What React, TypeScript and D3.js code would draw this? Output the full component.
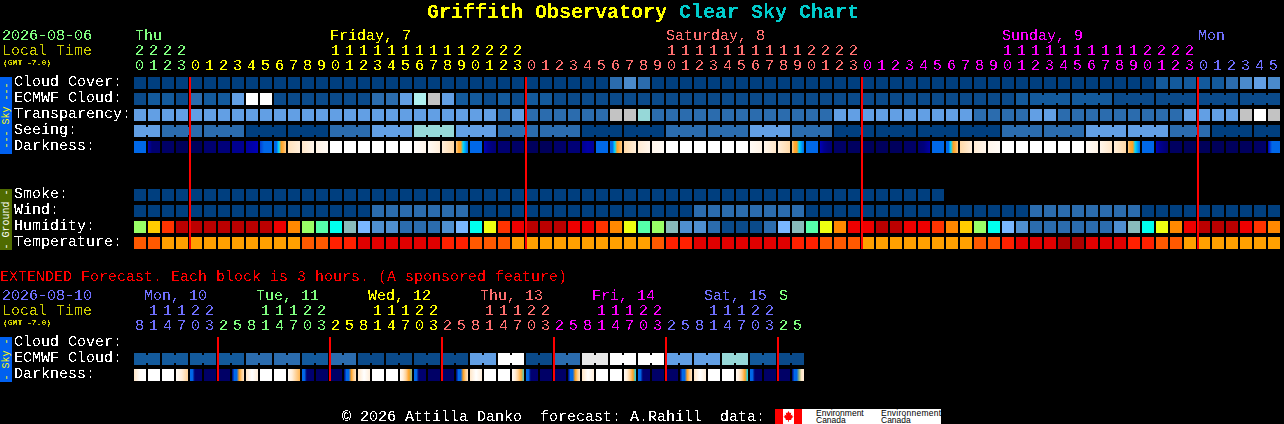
import { useEffect, useRef } from "react";
import * as d3 from "d3";

const WIDTH = 1284;
const HEIGHT = 424;
const FONT = "'Liberation Mono', monospace";

// palette shared by all the cloud-type rows, index = level in the data below
const skyColors = [
  "#003f7f", "#0a4a8a", "#135a9c", "#2b6cae", "#4a8acb", "#629fe4",
  "#79b7ff", "#96d8d8", "#b0f0f0", "#c3c3c3", "#e8e8e8", "#ffffff",
];
const humidityColors = [
  "#0a4a8a", "#2b6cae", "#4f8fd0", "#79b7ff", "#88bbbb", "#00ffee", "#55ffaa",
  "#99ff66", "#eeff11", "#ffcc00", "#ff8800", "#ff3300", "#ee0000", "#bb0000",
];
const temperatureColors = ["#ffa000", "#ff5900", "#ff2000", "#e00000", "#aa0000"];
const darknessColors = [
  "#000050", "#000070", "#000090", "#0000b8", "#0068e8", "#00d8ff",
  "#ffa020", "#ffcc88", "#ffe6c8", "#fff6ec", "#ffffff",
];

// main table, one value per hour: Thu 4, Fri 24, Sat 24, Sun 24, Mon 6
const cloudCover = [
  0, 0, 0, 0,
  0, 0, 0, 0, 0, 0, 0, 0, 0, 0, 0, 0, 0, 0, 0, 0, 0, 0, 0, 0, 0, 0, 0, 0,
  0, 0, 0, 0, 0, 0, 3, 4, 3, 0, 0, 0, 0, 0, 0, 0, 0, 0, 0, 0, 0, 0, 0, 0,
  0, 0, 0, 0, 0, 0, 0, 0, 0, 0, 0, 0, 0, 0, 0, 0, 0, 0, 0, 0, 0, 2, 2, 2,
  2, 2, 3, 4, 5, 4,
];
const ecmwfCloud = [
  1, 2, 2, 1,
  3, 2, 2, 5, 11, 11, 1, 1, 1, 1, 1, 1, 1, 3, 3, 5, 8, 9, 5, 2, 2, 1, 2, 1,
  2, 2, 1, 1, 1, 1, 1, 1, 1, 1, 1, 1, 1, 1, 1, 1, 1, 1, 1, 1, 1, 1, 1, 1,
  1, 1, 1, 1, 1, 1, 1, 1, 1, 1, 1, 2, 2, 2, 2, 2, 2, 2, 1, 1, 1, 1, 1, 1,
  1, 1, 1, 1, 1, 1,
];
const transparency = [
  5, 5, 5, 5,
  5, 5, 5, 5, 5, 5, 5, 5, 5, 5, 5, 5, 5, 5, 5, 5, 5, 5, 5, 5, 5, 5, 3, 5,
  3, 3, 3, 3, 3, 3, 9, 9, 7, 3, 3, 3, 3, 3, 3, 3, 3, 3, 3, 3, 3, 3, 5, 5,
  5, 5, 5, 5, 5, 5, 5, 5, 3, 3, 3, 3, 5, 5, 3, 3, 3, 3, 3, 3, 3, 3, 3, 5,
  5, 5, 5, 9, 11, 9,
];
// seeing comes in 3 hour blocks, the first and the last are cut to 2 hours
const seeingBlocks = [
  5, 3, 3, 0, 0, 3, 5, 7, 5, 3, 3, 0, 0, 3, 3, 5, 3, 0, 0, 0, 0, 3, 3, 5, 5, 3, 0, 0,
];
const darkness = [
  [4], [3, 1, 1, 1], [0.7], [0.3],
  [0.3], [1], [1.3], [2], [2.4, 2.6, 3], [3.6, 4, 4, 4], [4, 4, 5, 6, 6.4, 7], [7.8, 8.5],
  [8, 9], [8.8, 9.4], [10], [10], [10], [10], [10], [10],
  [9.8, 9], [9.5, 8.5], [8.5, 7.5], [7, 6.2, 6, 5, 4.5, 4], [4], [3, 2, 1.4, 1.2],
  [1], [0.7], [0.4], [0.3], [0.8], [1.2], [2, 2.6, 2.2], [4], [4, 4, 5, 6, 6.4, 7], [7.5, 8.5],
  [8.3, 9], [9, 9.5], [10], [10], [10], [10], [10], [10], [9.5, 8.8], [9, 8],
  [8.5, 7.5], [7, 6.2, 6, 5, 4.5, 4], [4], [3, 2, 1.4, 1.2],
  [0.7], [0.5], [0.3], [0.4], [0.4], [0.7], [1, 1.4, 2.6], [4], [4, 4, 5, 6, 6.4, 7], [7.5, 8.5],
  [8.3, 9], [9, 9.5], [10], [10], [10], [10], [10], [10], [9.5, 8.8], [9, 8],
  [8.5, 7.5], [7, 6.2, 6, 5, 4.5, 4], [4], [3, 2, 1.4, 1], [0.5], [0.3],
  [0.3], [0.3], [0.4], [0.4], [0.6, 0.8], [3, 4, 4, 4],
];
const smoke = [
  0, 0, 0, 0,
  0, 0, 0, 0, 0, 0, 0, 0, 0, 0, 0, 0, 0, 0, 0, 0, 0, 0, 0, 0, 0, 0, 0, 0,
  0, 0, 0, 0, 0, 0, 0, 0, 0, 0, 0, 0, 0, 0, 0, 0, 0, 0, 0, 0, 0, 0, 0, 0,
  0, 0, 0, 0, 0, 0,
];
const wind = [
  0, 0, 0, 0,
  0, 0, 0, 0, 0, 0, 0, 0, 0, 0, 0, 0, 0, 3, 3, 3, 3, 3, 3, 3, 0, 0, 0, 0,
  0, 0, 0, 0, 0, 0, 0, 0, 0, 0, 0, 0, 3, 3, 3, 3, 3, 3, 3, 3, 0, 0, 0, 0,
  0, 0, 0, 0, 0, 0, 0, 0, 0, 0, 0, 0, 3, 3, 3, 3, 3, 3, 3, 3, 0, 0, 0, 0,
  0, 0, 0, 0, 0, 0,
];
const humidity = [
  7, 9, 11, 13,
  13, 13, 13, 13, 13, 13, 12, 10, 7, 6, 5, 4, 3, 2, 2, 1, 1, 1, 2, 3, 5, 8, 11, 12,
  13, 13, 13, 12, 12, 11, 10, 8, 6, 7, 4, 2, 2, 1, 0, 0, 0, 1, 3, 4, 6, 8, 10, 12,
  12, 13, 13, 12, 12, 11, 10, 9, 7, 5, 3, 2, 1, 1, 1, 1, 1, 1, 2, 4, 5, 8, 10, 12,
  13, 13, 13, 12, 11, 10,
];
const temperature = [
  1, 1, 0, 0,
  0, 0, 0, 0, 0, 0, 0, 0, 1, 1, 2, 2, 3, 3, 3, 3, 3, 3, 2, 2, 1, 1, 1, 0,
  0, 0, 0, 0, 0, 0, 0, 0, 0, 1, 2, 2, 3, 3, 3, 3, 3, 3, 3, 2, 2, 1, 1, 1,
  0, 0, 0, 0, 0, 0, 0, 0, 1, 1, 2, 3, 3, 3, 4, 4, 3, 3, 3, 2, 2, 1, 1, 0,
  0, 0, 0, 0, 0, 0,
];

const hourTens = "2222          11111111112222          11111111112222          11111111112222      ";
const hourOnes = "0123012345678901234567890123012345678901234567890123012345678901234567890123012345";
const dayLabels = ["Thu", "Friday, 7", "Saturday, 8", "Sunday, 9", "Mon"];
const dayLabelCols = [0, 14, 38, 62, 76];
const dayStartCols = [0, 4, 28, 52, 76];
const dayColors = ["#80ff80", "#ffff00", "#ff7070", "#ff00ff", "#7070ff"];
const midnightCols = [4, 28, 52, 76];

// extended table, one value per 3 hour column, clouds come in 2 column blocks
const extEcmwfBlocks = [
  2, 2, 2, 2, 3, 3, 2, 3, 1, 1, 1, 1, 5, 11, 1, 3, 10, 11, 11, 5, 5, 7, 2, 1,
];
const extDarkness = [
  [8, 9.8, 10], [10], [10], [9.5, 8.5, 7.2], [4, 4, 1, 1, 1, 1], [0.7], [0.7], [1, 4, 4, 6, 7, 8],
  [8, 10, 8.5], [10], [10], [9.5, 8.5, 7.2, 6.5], [4, 4, 1, 1, 1, 1], [0.7], [0.7], [1, 4, 4, 6, 7, 8],
  [8, 10, 8.5], [10], [10], [9.5, 8.5, 7.2, 6, 5.5], [4, 4, 1, 1, 1, 1], [0.7], [0.7], [1, 4, 4, 6, 7, 8],
  [8, 10, 8.5], [10], [10], [9.5, 8.5, 7.2, 6.2, 5.3], [4, 4, 1, 1, 1, 1], [0.7], [0.7], [1, 4, 4, 6, 7, 8],
  [8, 10, 8.5], [10], [10], [9.5, 8.5, 7.2, 6, 5], [4, 4, 1, 1, 1, 1], [0.7], [0.7], [1, 4, 4, 6, 7, 8],
  [8, 10, 8.5], [10], [10], [9.5, 8.5, 7.2, 6, 5], [4, 4, 1, 1, 1, 1], [0.7], [0.7], [1, 4, 4, 5.6, 8, 8.5],
];
const extHourTens = " 11122   11122   11122   11122   11122   11122  ";
const extHourOnes = "814703258147032581470325814703258147032581470325";
const extDayLabels = ["Mon, 10", "Tue, 11", "Wed, 12", "Thu, 13", "Fri, 14", "Sat, 15", "S"];
const extDayLabelCols = [0, 8, 16, 24, 32, 40, 46];
const extDayLabelShift = [10, 10, 10, 10, 10, 10, 1];
const extDayStartCols = [0, 6, 14, 22, 30, 38, 46];
const extDayColors = ["#7070ff", "#80ff80", "#ffff00", "#ff7070", "#ff00ff", "#7070ff", "#80ff80"];
const extMidnightCols = [6, 14, 22, 30, 38, 46];

const CELL = 12;
const PITCH = 14;
const LEFT = 134;

function App() {
  const svgRef = useRef<SVGSVGElement>(null);

  useEffect(() => {
    const svgElement = svgRef.current;
    if (!svgElement) return;

    const svg = d3.select(svgElement);
    svg.append("rect").attr("width", WIDTH).attr("height", HEIGHT).attr("fill", "#000");
    const defs = svg.append("defs");

    // the original text is a bitmap font, so cut the antialiasing off the glyphs
    defs
      .append("filter")
      .attr("id", "crisp")
      .attr("color-interpolation-filters", "sRGB")
      .append("feComponentTransfer")
      .append("feFuncA")
      .attr("type", "discrete")
      .attr("tableValues", "0 0 1 1");

    const colScale = (n: number) =>
      d3
        .scaleBand<number>()
        .domain(d3.range(n))
        .range([LEFT, LEFT + PITCH * n - (PITCH - CELL)])
        .paddingInner((PITCH - CELL) / PITCH);

    const x = colScale(hourOnes.length);
    const xExt = colScale(extHourOnes.length);
    const colX = (scale: d3.ScaleBand<number>, i: number) => Math.round(scale(i) || 0);

    const levelScale = (colors: string[]) =>
      d3.scaleOrdinal<number, string>().domain(d3.range(colors.length)).range(colors);
    const skyColor = levelScale(skyColors);
    const humidityColor = levelScale(humidityColors);
    const temperatureColor = levelScale(temperatureColors);
    const darknessColor = d3
      .scaleLinear<string>()
      .domain(d3.range(darknessColors.length))
      .range(darknessColors);

    const put = (
      px: number,
      py: number,
      str: string,
      fill = "#fff",
      size = 15,
      weight = "normal",
      family = FONT
    ) =>
      svg
        .append("text")
        .attr("class", "crisp")
        .attr("x", px)
        .attr("y", py)
        .attr("fill", fill)
        .style("font-family", family)
        .style("font-size", `${size}px`)
        .style("font-weight", weight)
        .style("white-space", "pre")
        .text(str);

    // one row of blocks; joinFrom/joinSize link columns of one forecast block
    const cells = (
      scale: d3.ScaleBand<number>,
      y: number,
      values: number[],
      color: (v: number) => string,
      joinFrom?: number,
      joinSize = 3
    ) => {
      const g = svg.append("g");
      g.selectAll("rect.cell")
        .data(values)
        .enter()
        .append("rect")
        .attr("class", "cell")
        .attr("x", (_, i) => colX(scale, i))
        .attr("y", y)
        .attr("width", CELL)
        .attr("height", CELL)
        .attr("fill", (d) => color(d));
      if (joinFrom === undefined) return;
      const joined = values
        .map((_, i) => i)
        .filter(
          (i) =>
            i >= joinFrom &&
            i < values.length - 1 &&
            (i - joinFrom) % joinSize !== joinSize - 1
        );
      g.selectAll("rect.join")
        .data(joined)
        .enter()
        .append("rect")
        .attr("class", "join")
        .attr("x", (i) => colX(scale, i) + CELL)
        .attr("y", y + 2)
        .attr("width", PITCH - CELL)
        .attr("height", CELL - 4)
        .attr("fill", (i) => color(values[i]));
    };

    const darkCells = (
      scale: d3.ScaleBand<number>,
      y: number,
      values: number[][],
      prefix: string
    ) => {
      values.forEach((stops, i) => {
        const gradient = defs.append("linearGradient").attr("id", `${prefix}${i}`);
        gradient
          .selectAll("stop")
          .data(stops.length > 1 ? stops : [stops[0], stops[0]])
          .enter()
          .append("stop")
          .attr("offset", (_, k, all) => k / (all.length - 1))
          .attr("stop-color", (d) => darknessColor(d));
      });
      svg
        .append("g")
        .selectAll("rect")
        .data(values)
        .enter()
        .append("rect")
        .attr("x", (_, i) => colX(scale, i))
        .attr("y", y)
        .attr("width", CELL)
        .attr("height", CELL)
        .attr("fill", (_, i) => `url(#${prefix}${i})`);
    };

    const hourRows = (
      scale: d3.ScaleBand<number>,
      tens: string,
      ones: string,
      starts: number[],
      colors: string[],
      yTens: number,
      yOnes: number
    ) => {
      const colorOf = (i: number) => colors[d3.bisectRight(starts, i) - 1];
      [tens, ones].forEach((row, r) => {
        svg
          .append("g")
          .selectAll("text")
          .data(row.split(""))
          .enter()
          .append("text")
          .attr("class", "crisp")
          .attr("x", (_, i) => colX(scale, i) + 1)
          .attr("y", r === 0 ? yTens : yOnes)
          .attr("fill", (_, i) => colorOf(i))
          .style("font-family", FONT)
          .style("font-size", "15px")
          .text((d) => d.trim());
      });
    };

    const sideBar = (y: number, h: number, fill: string, ink: string, label: string) => {
      svg.append("rect").attr("x", 0).attr("y", y).attr("width", 12).attr("height", h).attr("fill", fill);
      svg
        .append("text")
        .attr("transform", `translate(9,${y + h / 2}) rotate(-90)`)
        .attr("text-anchor", "middle")
        .attr("fill", ink)
        .style("font-family", FONT)
        .style("font-size", "10px")
        .style("white-space", "pre")
        .text(label);
    };

    const redLines = (scale: d3.ScaleBand<number>, cols: number[], y: number, h: number) => {
      svg
        .append("g")
        .selectAll("rect")
        .data(cols)
        .enter()
        .append("rect")
        .attr("x", (c) => colX(scale, c) - 1)
        .attr("y", y)
        .attr("width", 2)
        .attr("height", h)
        .attr("fill", "#f00");
    };

    // title
    const title = put(427, 18, "", "#ff0", 20, "bold");
    title.append("tspan").attr("fill", "#ffff00").text("Griffith Observatory ");
    title.append("tspan").attr("fill", "#00cccc").text("Clear Sky Chart");

    // main header
    put(2, 40, "2026-08-06", "#80ff80");
    put(2, 55, "Local Time", "#cccc00");
    put(3, 65, "(GMT -7.0)", "#cccc00", 8, "bold");
    dayLabels.forEach((d, i) => {
      put(colX(x, dayLabelCols[i]) + (i === 0 ? 1 : 0), 40, d, dayColors[i]);
    });
    hourRows(x, hourTens, hourOnes, dayStartCols, dayColors, 55, 70);

    // main rows
    const seeing = d3.range(hourOnes.length).map((i) => seeingBlocks[Math.floor((i + 1) / 3)]);
    const sky = (v: number) => skyColor(v);
    sideBar(77, 77, "#0060f0", "#ffff00", "--- Sky ---");
    sideBar(189, 61, "#4f6b00", "#ffffff", "- Ground -");
    ["Cloud Cover:", "ECMWF Cloud:", "Transparency:", "Seeing:", "Darkness:"].forEach((l, i) => {
      put(14, 86 + i * 16, l);
    });
    ["Smoke:", "Wind:", "Humidity:", "Temperature:"].forEach((l, i) => {
      put(14, 198 + i * 16, l);
    });
    cells(x, 77, cloudCover, sky);
    cells(x, 93, ecmwfCloud, sky, 64);
    cells(x, 109, transparency, sky);
    cells(x, 125, seeing, sky, -1);
    darkCells(x, 141, darkness, "dark");
    cells(x, 189, smoke, sky);
    cells(x, 205, wind, sky);
    cells(x, 221, humidity, (v) => humidityColor(v));
    cells(x, 237, temperature, (v) => temperatureColor(v));
    redLines(x, midnightCols, 77, 172);

    // extended forecast
    put(0, 281, "EXTENDED Forecast. Each block is 3 hours. (A sponsored feature)", "#ff0000");
    put(2, 300, "2026-08-10", "#7070ff");
    put(2, 315, "Local Time", "#cccc00");
    put(3, 325, "(GMT -7.0)", "#cccc00", 8, "bold");
    extDayLabels.forEach((d, i) => {
      put(colX(xExt, extDayLabelCols[i]) + extDayLabelShift[i], 300, d, extDayColors[i]);
    });
    hourRows(xExt, extHourTens, extHourOnes, extDayStartCols, extDayColors, 315, 330);
    sideBar(337, 45, "#0060f0", "#ffff00", "- Sky -");
    ["Cloud Cover:", "ECMWF Cloud:", "Darkness:"].forEach((l, i) => {
      put(14, 346 + i * 16, l);
    });
    const extEcmwf = d3.range(extHourOnes.length).map((i) => extEcmwfBlocks[Math.floor(i / 2)]);
    cells(xExt, 353, extEcmwf, sky, 0, 2);
    darkCells(xExt, 369, extDarkness, "xdark");
    redLines(xExt, extMidnightCols, 337, 44);

    // footer and sponsor logo
    put(342, 421, "\u00a9 2026 Attilla Danko  forecast: A.Rahill  data:");

    svg.selectAll("text.crisp").attr("filter", "url(#crisp)");

    svg.append("rect").attr("x", 775).attr("y", 409).attr("width", 166).attr("height", 15).attr("fill", "#fff");
    svg.append("rect").attr("x", 775).attr("y", 409).attr("width", 8).attr("height", 15).attr("fill", "#f00");
    svg.append("rect").attr("x", 794).attr("y", 409).attr("width", 8).attr("height", 15).attr("fill", "#f00");
    svg
      .append("path")
      .attr("d", "M788.5 411l1.3 2.2 1.4-.6-.5 3 1.7-1-.3 1.6 1.4.4-2.4 2.4.3 1h-2.5v1.8h-.8v-1.8h-2.5l.3-1-2.4-2.4 1.4-.4-.3-1.6 1.7 1-.5-3 1.4.6z")
      .attr("fill", "#f00");
    const sans = "'Liberation Sans', sans-serif";
    const logoText = (px: number, py: number, s: string) =>
      svg
        .append("text")
        .attr("x", px)
        .attr("y", py)
        .attr("fill", "#000")
        .style("font-family", sans)
        .style("font-size", "8.5px")
        .text(s);
    logoText(816, 415.5, "Environment");
    logoText(816, 423, "Canada");
    logoText(881, 415.5, "Environnement").attr("textLength", 60);
    logoText(881, 423, "Canada");

    return () => {
      svg.selectAll("*").remove();
    };
  }, []);

  return (
    <svg
      ref={svgRef}
      width={WIDTH}
      height={HEIGHT}
      style={{ position: "absolute", left: 0, top: 0, display: "block" }}
    />
  );
}

export default App;
